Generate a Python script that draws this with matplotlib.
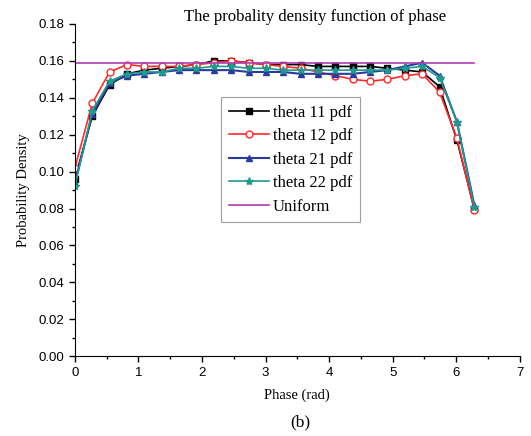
import matplotlib
matplotlib.use("Agg")
import matplotlib.pyplot as plt
from matplotlib.ticker import MultipleLocator

# phase grid (rad)
phase = [0.000, 0.273, 0.546, 0.820, 1.093, 1.366, 1.639, 1.912, 2.185, 2.459,
         2.732, 3.005, 3.278, 3.551, 3.824, 4.098, 4.371, 4.644, 4.917, 5.190,
         5.463, 5.737, 6.010, 6.283]

theta11 = [0.096, 0.130, 0.147, 0.153, 0.155, 0.156, 0.157, 0.158, 0.160, 0.160,
           0.159, 0.158, 0.158, 0.158, 0.157, 0.157, 0.157, 0.157, 0.156, 0.155,
           0.154, 0.146, 0.117, 0.080]
theta12 = [0.102, 0.137, 0.154, 0.158, 0.157, 0.157, 0.157, 0.158, 0.159, 0.160,
           0.159, 0.158, 0.157, 0.156, 0.154, 0.152, 0.150, 0.149, 0.150, 0.152,
           0.153, 0.143, 0.118, 0.079]
theta21 = [0.094, 0.131, 0.148, 0.152, 0.153, 0.154, 0.155, 0.155, 0.155, 0.155,
           0.154, 0.154, 0.154, 0.153, 0.153, 0.153, 0.153, 0.154, 0.155, 0.157,
           0.159, 0.152, 0.127, 0.082]
theta22 = [0.092, 0.133, 0.149, 0.153, 0.154, 0.154, 0.156, 0.156, 0.157, 0.157,
           0.156, 0.156, 0.155, 0.155, 0.155, 0.155, 0.155, 0.155, 0.155, 0.156,
           0.157, 0.151, 0.127, 0.081]
uniform_x = [0.0, 6.283]
uniform_y = [0.159, 0.159]

serif = ["Liberation Serif", "DejaVu Serif"]
plt.rcParams["font.family"] = ["Liberation Sans", "DejaVu Sans"]

fig = plt.figure(figsize=(5.31, 4.36), dpi=100)
ax = fig.add_axes([0.141, 0.183, 0.838, 0.762])

ax.plot(phase, theta11, "-s", color="black", lw=1.2, ms=4, label="theta 11 pdf")
ax.plot(phase, theta12, "-o", color="#ff2a2a", lw=1.2, ms=5, mfc="white", mec="#ff2a2a", label="theta 12 pdf")
ax.plot(phase, theta21, "-^", color="#2b3a9e", lw=1.5, ms=4.5, label="theta 21 pdf")
ax.plot(phase, theta22, "-*", color="#1f9a8f", lw=1.2, ms=6, label="theta 22 pdf")
ax.plot(uniform_x, uniform_y, "-", color="#b03cb0", lw=1.2, label="Uniform")

ax.set_xlim(0, 7)
ax.set_ylim(0, 0.18)
ax.xaxis.set_major_locator(MultipleLocator(1))
ax.xaxis.set_minor_locator(MultipleLocator(0.5))
ax.yaxis.set_major_locator(MultipleLocator(0.02))
ax.yaxis.set_minor_locator(MultipleLocator(0.01))
ax.yaxis.set_major_formatter(matplotlib.ticker.FormatStrFormatter("%.2f"))
ax.tick_params(which="major", direction="out", length=4, width=1, labelsize=9.5)
ax.tick_params(which="minor", direction="out", length=2.5, width=1)
ax.spines["top"].set_visible(False)
ax.spines["right"].set_visible(False)

ax.set_xlabel("Phase (rad)", family=serif, fontsize=10.5, labelpad=7)
ax.set_ylabel("Probability Density", family=serif, fontsize=10.5, labelpad=6)

leg = ax.legend(loc="upper left", bbox_to_anchor=(0.31, 0.805), fancybox=False,
                prop={"family": serif, "size": 12}, handlelength=2.4,
                borderpad=0.45, labelspacing=0.45, handletextpad=0.25)
leg.get_frame().set_edgecolor("#888888")
leg.get_frame().set_linewidth(0.8)

fig.text(0.593, 0.962, "The probality density function of phase", family=serif,
         fontsize=12, ha="center", va="center")
fig.text(0.565, 0.032, "(b)", family=serif, fontsize=12.5, ha="center", va="center")

fig.savefig("out.png", dpi=100)
